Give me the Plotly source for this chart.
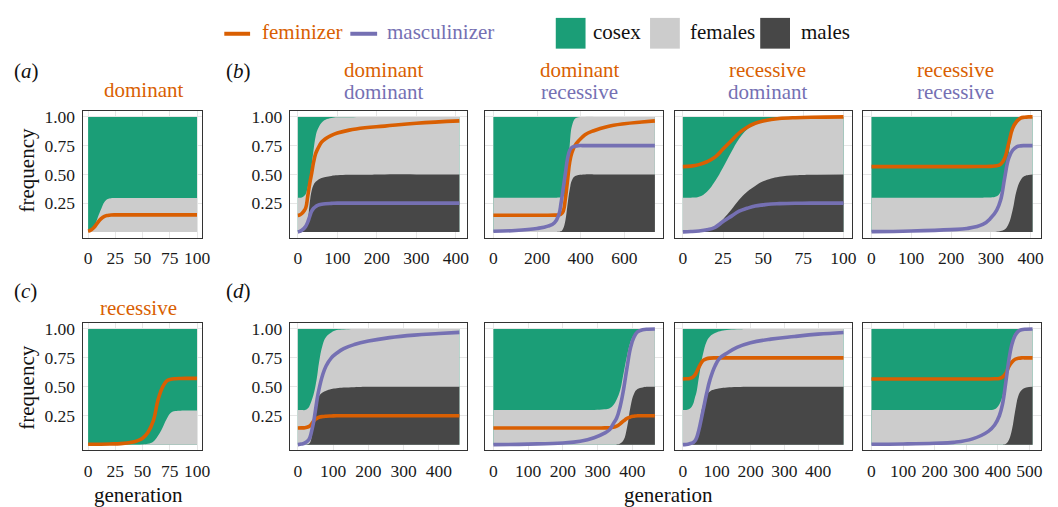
import plotly.graph_objects as go

# ---------------- data (generation vs frequency) ----------------
# panel (a): dominant feminizer only
a_gen = [0, 3, 6, 9, 12, 15, 18, 21, 25, 30, 40, 100]
a_unisexual = [0.0, 0.02, 0.055, 0.13, 0.2, 0.26, 0.285, 0.293, 0.295, 0.295, 0.295, 0.295]
a_feminizer = [0.006, 0.018, 0.045, 0.083, 0.115, 0.135, 0.143, 0.147, 0.148, 0.148, 0.148, 0.148]

# panel (c): recessive feminizer only
c_gen = [0, 20, 30, 40, 45, 50, 55, 60, 64, 68, 72, 76, 80, 85, 90, 100]
c_unisexual = [0, 0, 0, 0, 0, 0.002, 0.008, 0.028, 0.075, 0.14, 0.22, 0.275, 0.29, 0.294, 0.295, 0.295]
c_feminizer = [0.004, 0.006, 0.009, 0.02, 0.033, 0.055, 0.107, 0.21, 0.38, 0.49, 0.55, 0.565, 0.57, 0.572, 0.573, 0.573]

# panel (b1): dominant / dominant
b1_gen = [0, 5, 10, 15, 20, 25, 30, 35, 40, 45, 50, 60, 70, 85, 100, 130, 170, 220, 300, 409]
b1_unisexual = [0.297, 0.298, 0.3, 0.31, 0.33, 0.39, 0.47, 0.58, 0.72, 0.83, 0.89, 0.95, 0.975, 0.99, 0.996, 0.998, 1.0, 1.0, 1.0, 1.0]
b1_males = [0, 0, 0.002, 0.01, 0.03, 0.1, 0.25, 0.36, 0.41, 0.435, 0.45, 0.468, 0.478, 0.487, 0.492, 0.496, 0.498, 0.5, 0.5, 0.5]
b1_feminizer = [0.144, 0.148, 0.16, 0.18, 0.21, 0.31, 0.42, 0.51, 0.61, 0.68, 0.72, 0.78, 0.81, 0.84, 0.86, 0.885, 0.905, 0.92, 0.945, 0.965]
b1_masculinizer = [0.0, 0.005, 0.015, 0.03, 0.05, 0.085, 0.135, 0.18, 0.205, 0.22, 0.23, 0.24, 0.245, 0.248, 0.25, 0.25, 0.25, 0.25, 0.25, 0.25]

# panel (b2): dominant / recessive
b2_gen = [0, 100, 200, 250, 280, 300, 310, 320, 330, 340, 350, 360, 375, 390, 420, 460, 520, 600, 680, 740]
b2_unisexual = [0.297, 0.297, 0.297, 0.297, 0.297, 0.299, 0.302, 0.31, 0.34, 0.5, 0.76, 0.92, 0.985, 0.997, 1.0, 1.0, 1.0, 1.0, 1.0, 1.0]
b2_males = [0, 0, 0, 0, 0, 0.001, 0.005, 0.03, 0.1, 0.24, 0.37, 0.45, 0.485, 0.495, 0.5, 0.5, 0.5, 0.5, 0.5, 0.5]
b2_feminizer = [0.145, 0.145, 0.145, 0.145, 0.146, 0.148, 0.155, 0.18, 0.29, 0.45, 0.61, 0.69, 0.755, 0.79, 0.845, 0.88, 0.915, 0.94, 0.955, 0.965]
b2_masculinizer = [0.005, 0.012, 0.03, 0.05, 0.08, 0.15, 0.25, 0.38, 0.51, 0.64, 0.71, 0.735, 0.745, 0.75, 0.75, 0.75, 0.75, 0.75, 0.75, 0.75]

# panel (b3): recessive / dominant
b3_gen = [0, 5, 10, 15, 20, 25, 30, 35, 40, 45, 50, 55, 60, 70, 80, 100]
b3_unisexual = [0.296, 0.298, 0.305, 0.35, 0.44, 0.56, 0.69, 0.81, 0.89, 0.935, 0.965, 0.985, 0.993, 0.998, 1.0, 1.0]
b3_males = [0, 0, 0.002, 0.01, 0.04, 0.11, 0.19, 0.28, 0.35, 0.4, 0.44, 0.465, 0.48, 0.493, 0.498, 0.5]
b3_feminizer = [0.568, 0.572, 0.585, 0.61, 0.65, 0.72, 0.79, 0.86, 0.91, 0.945, 0.965, 0.978, 0.986, 0.993, 0.997, 1.0]
b3_masculinizer = [0.0, 0.003, 0.008, 0.018, 0.04, 0.09, 0.135, 0.18, 0.205, 0.225, 0.235, 0.243, 0.246, 0.249, 0.25, 0.25]

# panel (b4): recessive / recessive
b4_gen = [0, 100, 200, 240, 280, 300, 315, 325, 335, 345, 355, 365, 375, 385, 395, 405]
b4_unisexual = [0.297, 0.297, 0.297, 0.297, 0.298, 0.3, 0.31, 0.35, 0.45, 0.67, 0.88, 0.965, 0.99, 0.997, 1.0, 1.0]
b4_males = [0, 0, 0, 0, 0, 0, 0.002, 0.008, 0.02, 0.07, 0.19, 0.36, 0.45, 0.485, 0.495, 0.5]
b4_feminizer = [0.568, 0.568, 0.568, 0.568, 0.569, 0.57, 0.575, 0.59, 0.64, 0.77, 0.9, 0.96, 0.99, 0.997, 1.0, 1.0]
b4_masculinizer = [0.002, 0.008, 0.02, 0.03, 0.065, 0.12, 0.19, 0.28, 0.47, 0.64, 0.71, 0.74, 0.748, 0.75, 0.75, 0.75]

# panel (d1)
d1_gen = [0, 10, 20, 30, 35, 40, 45, 50, 55, 60, 70, 80, 95, 110, 130, 160, 200, 260, 330, 400, 458]
d1_unisexual = [0.3, 0.3, 0.3, 0.32, 0.35, 0.39, 0.44, 0.51, 0.6, 0.71, 0.86, 0.93, 0.97, 0.99, 0.996, 1, 1, 1, 1, 1, 1]
d1_males = [0, 0, 0, 0.005, 0.02, 0.09, 0.22, 0.32, 0.39, 0.42, 0.45, 0.465, 0.48, 0.487, 0.493, 0.497, 0.5, 0.5, 0.5, 0.5, 0.5]
d1_feminizer = [0.144, 0.145, 0.147, 0.155, 0.165, 0.185, 0.205, 0.22, 0.23, 0.237, 0.243, 0.246, 0.248, 0.25, 0.25, 0.25, 0.25, 0.25, 0.25, 0.25, 0.25]
d1_masculinizer = [0.0, 0.005, 0.015, 0.04, 0.07, 0.13, 0.2, 0.3, 0.4, 0.48, 0.6, 0.68, 0.75, 0.79, 0.83, 0.865, 0.895, 0.925, 0.947, 0.96, 0.97]

# panel (d2)
d2_gen = [0, 100, 200, 250, 290, 320, 335, 345, 355, 365, 375, 385, 395, 405, 415, 430, 445, 465]
d2_unisexual = [0.3, 0.3, 0.3, 0.3, 0.3, 0.305, 0.315, 0.34, 0.39, 0.47, 0.62, 0.77, 0.89, 0.95, 0.98, 0.995, 1, 1]
d2_males = [0, 0, 0, 0, 0, 0, 0, 0, 0.002, 0.01, 0.04, 0.15, 0.33, 0.44, 0.48, 0.495, 0.5, 0.5]
d2_feminizer = [0.144, 0.144, 0.144, 0.144, 0.144, 0.145, 0.146, 0.15, 0.16, 0.18, 0.205, 0.228, 0.24, 0.246, 0.25, 0.25, 0.25, 0.25]
d2_masculinizer = [0.0, 0.005, 0.015, 0.03, 0.06, 0.1, 0.13, 0.18, 0.23, 0.33, 0.48, 0.67, 0.84, 0.93, 0.975, 0.993, 0.998, 1.0]

# panel (d3)
d3_gen = [0, 10, 20, 30, 35, 40, 45, 50, 55, 60, 70, 80, 95, 110, 130, 160, 200, 260, 330, 400, 475]
d3_unisexual = [0.3, 0.3, 0.31, 0.35, 0.4, 0.45, 0.54, 0.63, 0.72, 0.79, 0.89, 0.935, 0.965, 0.98, 0.99, 0.997, 1, 1, 1, 1, 1]
d3_males = [0, 0, 0, 0.003, 0.015, 0.05, 0.11, 0.2, 0.29, 0.35, 0.43, 0.46, 0.478, 0.487, 0.494, 0.498, 0.5, 0.5, 0.5, 0.5, 0.5]
d3_feminizer = [0.568, 0.569, 0.572, 0.585, 0.6, 0.625, 0.655, 0.685, 0.71, 0.728, 0.742, 0.748, 0.75, 0.75, 0.75, 0.75, 0.75, 0.75, 0.75, 0.75, 0.75]
d3_masculinizer = [0, 0.002, 0.008, 0.018, 0.03, 0.055, 0.1, 0.16, 0.23, 0.3, 0.44, 0.56, 0.68, 0.75, 0.79, 0.84, 0.88, 0.912, 0.935, 0.955, 0.97]

# panel (d4)
d4_gen = [0, 100, 200, 260, 320, 370, 390, 405, 415, 425, 435, 445, 455, 465, 475, 490, 510]
d4_unisexual = [0.3, 0.3, 0.3, 0.3, 0.3, 0.3, 0.305, 0.35, 0.42, 0.59, 0.77, 0.9, 0.965, 0.99, 0.997, 1, 1]
d4_males = [0, 0, 0, 0, 0, 0, 0, 0, 0, 0.005, 0.04, 0.13, 0.29, 0.42, 0.47, 0.493, 0.5]
d4_feminizer = [0.568, 0.568, 0.568, 0.568, 0.568, 0.568, 0.569, 0.572, 0.585, 0.615, 0.675, 0.715, 0.738, 0.746, 0.75, 0.75, 0.75]
d4_masculinizer = [0.003, 0.006, 0.012, 0.02, 0.05, 0.115, 0.17, 0.25, 0.35, 0.53, 0.73, 0.87, 0.945, 0.98, 0.993, 0.998, 1.0]

freq_ticks = [0.25, 0.5, 0.75, 1.0]
freq_labels = ["0.25", "0.50", "0.75", "1.00"]
ticks_100 = [0, 25, 50, 75, 100]
ticks_400 = [0, 100, 200, 300, 400]
ticks_600 = [0, 200, 400, 600]
ticks_500 = [0, 100, 200, 300, 400, 500]

# ---------------- style / layout ----------------
W, H = 1058, 507
GREEN = "#1b9e77"
LIGHT = "#cccccc"
DARK = "#474747"
ORANGE = "#d95f02"
PURPLE = "#7570b3"
FONT = "Liberation Serif, Times New Roman, DejaVu Serif, serif"
TXT = 21
TICK = 17.5

ROW_Y = {1: (108, 235.5), 2: (321.7, 450)}

panels = [
    dict(gen=a_gen, uni=a_unisexual, males=None, fem=a_feminizer, mas=None, x=(83.3, 204), row=1, ticks=ticks_100, ylab=True),
    dict(gen=b1_gen, uni=b1_unisexual, males=b1_males, fem=b1_feminizer, mas=b1_masculinizer, x=(292, 471), row=1, ticks=ticks_400, ylab=True),
    dict(gen=b2_gen, uni=b2_unisexual, males=b2_males, fem=b2_feminizer, mas=b2_masculinizer, x=(489, 668), row=1, ticks=ticks_600, ylab=False),
    dict(gen=b3_gen, uni=b3_unisexual, males=b3_males, fem=b3_feminizer, mas=b3_masculinizer, x=(680, 858), row=1, ticks=ticks_100, ylab=False),
    dict(gen=b4_gen, uni=b4_unisexual, males=b4_males, fem=b4_feminizer, mas=b4_masculinizer, x=(870, 1048.5), row=1, ticks=ticks_400, ylab=False),
    dict(gen=c_gen, uni=c_unisexual, males=None, fem=c_feminizer, mas=None, x=(83.3, 204), row=2, ticks=ticks_100, ylab=True),
    dict(gen=d1_gen, uni=d1_unisexual, males=d1_males, fem=d1_feminizer, mas=d1_masculinizer, x=(292, 471), row=2, ticks=ticks_400, ylab=True),
    dict(gen=d2_gen, uni=d2_unisexual, males=d2_males, fem=d2_feminizer, mas=d2_masculinizer, x=(489, 668), row=2, ticks=ticks_400, ylab=False),
    dict(gen=d3_gen, uni=d3_unisexual, males=d3_males, fem=d3_feminizer, mas=d3_masculinizer, x=(680, 858), row=2, ticks=ticks_400, ylab=False),
    dict(gen=d4_gen, uni=d4_unisexual, males=d4_males, fem=d4_feminizer, mas=d4_masculinizer, x=(870, 1048.5), row=2, ticks=ticks_500, ylab=False),
]

fig = go.Figure()
layout = {}
SM = 1.2

for i, p in enumerate(panels, start=1):
    xa = "x" if i == 1 else f"x{i}"
    ya = "y" if i == 1 else f"y{i}"
    gen = p["gen"]
    xmax = gen[-1]
    # cosex background (whole population = 1)
    fig.add_trace(go.Scatter(x=[gen[0], gen[-1]], y=[1.0, 1.0], mode="lines", line=dict(width=0, color=GREEN),
                             fill="tozeroy", fillcolor=GREEN, xaxis=xa, yaxis=ya, showlegend=False, hoverinfo="skip"))
    fig.add_trace(go.Scatter(x=gen, y=p["uni"], mode="lines", line=dict(width=0, color=LIGHT, shape="spline", smoothing=SM),
                             fill="tozeroy", fillcolor=LIGHT, xaxis=xa, yaxis=ya, showlegend=False, hoverinfo="skip"))
    if p["males"] is not None:
        fig.add_trace(go.Scatter(x=gen, y=p["males"], mode="lines", line=dict(width=0, color=DARK, shape="spline", smoothing=SM),
                                 fill="tozeroy", fillcolor=DARK, xaxis=xa, yaxis=ya, showlegend=False, hoverinfo="skip"))
    fig.add_trace(go.Scatter(x=gen, y=p["fem"], mode="lines", line=dict(width=3.6, color=ORANGE, shape="spline", smoothing=SM),
                             xaxis=xa, yaxis=ya, showlegend=False, hoverinfo="skip"))
    if p["mas"] is not None:
        fig.add_trace(go.Scatter(x=gen, y=p["mas"], mode="lines", line=dict(width=3.6, color=PURPLE, shape="spline", smoothing=SM),
                                 xaxis=xa, yaxis=ya, showlegend=False, hoverinfo="skip"))

    y0, y1 = ROW_Y[p["row"]]
    x0, x1 = p["x"]
    xkey = "xaxis" if i == 1 else f"xaxis{i}"
    ykey = "yaxis" if i == 1 else f"yaxis{i}"
    layout[xkey] = dict(
        domain=[x0 / W, x1 / W], anchor=ya, range=[-0.05 * xmax, 1.05 * xmax],
        tickvals=p["ticks"], ticktext=[str(t) for t in p["ticks"]],
        showgrid=True, gridcolor="#e6e6e6", gridwidth=1, zeroline=False,
        showline=True, mirror=True, linecolor="#333333", linewidth=1.2,
        ticks="outside", ticklen=4, tickcolor="rgba(0,0,0,0)",
        tickfont=dict(family=FONT, size=TICK, color="#1a1a1a"),
    )
    layout[ykey] = dict(
        domain=[1 - y1 / H, 1 - y0 / H], anchor=xa, range=[-0.05, 1.05],
        tickvals=freq_ticks, ticktext=freq_labels, showticklabels=p["ylab"],
        showgrid=True, gridcolor="#e6e6e6", gridwidth=1, zeroline=False,
        showline=True, mirror=True, linecolor="#333333", linewidth=1.2,
        ticks="outside", ticklen=3, tickcolor="rgba(0,0,0,0)",
        tickfont=dict(family=FONT, size=TICK, color="#1a1a1a"),
    )

annotations = []
def text(x, y, s, color="#111111", size=TXT, xanchor="center", angle=0):
    annotations.append(dict(x=x / W, y=1 - y / H, xref="paper", yref="paper", text=s, showarrow=False,
                            xanchor=xanchor, yanchor="middle", textangle=angle,
                            font=dict(family=FONT, size=size, color=color)))

# panel labels
text(12, 68, "(<i>a</i>)", xanchor="left")
text(226, 68, "(<i>b</i>)", xanchor="left")
text(12, 289, "(<i>c</i>)", xanchor="left")
text(226, 289, "(<i>d</i>)", xanchor="left")

# panel titles
text(145, 87, "dominant", ORANGE)
text(386, 67, "dominant", ORANGE)
text(386, 89, "dominant", PURPLE)
text(584, 67, "dominant", ORANGE)
text(584, 89, "recessive", PURPLE)
text(773, 67, "recessive", ORANGE)
text(773, 89, "dominant", PURPLE)
text(963, 67, "recessive", ORANGE)
text(963, 89, "recessive", PURPLE)
text(140, 306, "recessive", ORANGE)

# axis titles
text(27, 168, "frequency", angle=-90)
text(27, 387, "frequency", angle=-90)
text(140, 495, "generation")
text(674, 495, "generation")

# legend
shapes = []
def line_key(x0, x1, y, color):
    shapes.append(dict(type="line", xref="paper", yref="paper", x0=x0 / W, x1=x1 / W, y0=1 - y / H, y1=1 - y / H,
                       line=dict(color=color, width=4)))
def box_key(x0, x1, y0, y1, color):
    shapes.append(dict(type="rect", xref="paper", yref="paper", x0=x0 / W, x1=x1 / W, y0=1 - y1 / H, y1=1 - y0 / H,
                       line=dict(width=0), fillcolor=color))

line_key(226, 252, 30, ORANGE)
text(262, 28, "feminizer", ORANGE, xanchor="left")
line_key(353, 380, 30, PURPLE)
text(388, 28, "masculinizer", PURPLE, xanchor="left")
box_key(560, 590, 14, 45, GREEN)
text(596, 28, "cosex", xanchor="left")
box_key(655, 685, 14, 45, LIGHT)
text(693, 28, "females", xanchor="left")
box_key(766, 796, 14, 45, DARK)
text(805, 28, "males", xanchor="left")

fig.update_layout(
    width=W, height=H, autosize=False,
    margin=dict(l=0, r=0, t=0, b=0),
    paper_bgcolor="white", plot_bgcolor="white",
    annotations=annotations, shapes=shapes, showlegend=False,
    **layout,
)

fig.write_html("out.html", config={"displayModeBar": False},
               post_script="document.body.style.margin='0';document.body.style.overflow='hidden';")
